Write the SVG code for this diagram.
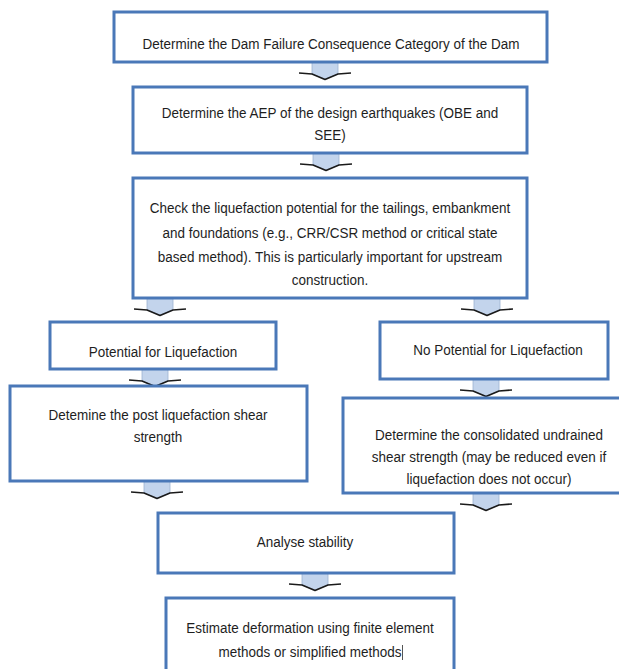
<svg xmlns="http://www.w3.org/2000/svg" width="619" height="669" viewBox="0 0 619 669">
  <style>
    .box { fill: #ffffff; stroke: #4a78b8; stroke-width: 3; }
    .label { font-family: "Liberation Sans", Arial, sans-serif; font-size: 14.5px; fill: #1e1e1e; text-anchor: middle; }
    .stem { fill: #c3d4ec; stroke: #9db3d2; stroke-width: 0.8; }
    .head { fill: none; stroke: #1a1a1a; stroke-width: 1.6; stroke-linejoin: round; }
  </style>
  <defs>
    <!-- block arrow, origin at top centre, 19px long -->
    <g id="blockArrow">
      <path class="stem" d="M-13,0 H13 V12 L0,17 L-13,12 Z"/>
      <path class="head" d="M-26,11 L-13,12 L0,17.5 L13,12 L26,11"/>
    </g>
  </defs>
  <rect width="619" height="669" fill="#ffffff"/>

  <g id="connectors">
    <use href="#blockArrow" x="325" y="62"/>
    <use href="#blockArrow" x="326" y="153"/>
    <use href="#blockArrow" x="160" y="298"/>
    <use href="#blockArrow" x="487" y="298"/>
    <use href="#blockArrow" x="155" y="369"/>
    <use href="#blockArrow" x="486" y="379"/>
    <use href="#blockArrow" x="157" y="481"/>
    <use href="#blockArrow" x="486" y="493"/>
    <use href="#blockArrow" x="315" y="573"/>
  </g>

  <!-- labels use a slightly narrowed sans: each line is placed with translate(cx, baseline) scale(0.93,1) -->
  <g id="consequence-category">
    <rect class="box" x="114" y="12" width="433" height="50"/>
    <text class="label" transform="translate(331,49) scale(0.93,1)">Determine the Dam Failure Consequence Category of the Dam</text>
  </g>

  <g id="design-earthquakes">
    <rect class="box" x="133" y="87" width="394" height="66"/>
    <text class="label" transform="translate(330,118) scale(0.93,1)">Determine the AEP of the design earthquakes (OBE and</text>
    <text class="label" transform="translate(330,140) scale(0.93,1)">SEE)</text>
  </g>

  <g id="liquefaction-check">
    <rect class="box" x="133" y="178" width="394" height="120"/>
    <text class="label" transform="translate(330,213) scale(0.93,1)">Check the liquefaction potential for the tailings, embankment</text>
    <text class="label" transform="translate(330,238) scale(0.93,1)">and foundations (e.g., CRR/CSR method or critical state</text>
    <text class="label" transform="translate(330,262) scale(0.93,1)">based method). This is particularly important for upstream</text>
    <text class="label" transform="translate(330,285) scale(0.93,1)">construction.</text>
  </g>

  <g id="potential">
    <rect class="box" x="50" y="322" width="226" height="47"/>
    <text class="label" transform="translate(163,357) scale(0.93,1)">Potential for Liquefaction</text>
  </g>

  <g id="no-potential">
    <rect class="box" x="380" y="322" width="228" height="57"/>
    <text class="label" transform="translate(498,355) scale(0.93,1)">No Potential for Liquefaction</text>
  </g>

  <g id="post-liquefaction-strength">
    <rect class="box" x="10" y="386" width="297" height="95"/>
    <text class="label" transform="translate(158,420) scale(0.93,1)">Detemine the post liquefaction shear</text>
    <text class="label" transform="translate(158,442) scale(0.93,1)">strength</text>
  </g>

  <g id="undrained-strength">
    <rect class="box" x="343" y="398" width="290" height="95"/>
    <text class="label" transform="translate(489,440) scale(0.93,1)">Determine the consolidated undrained</text>
    <text class="label" transform="translate(489,462) scale(0.93,1)">shear strength (may be reduced even if</text>
    <text class="label" transform="translate(489,484) scale(0.93,1)">liquefaction does not occur)</text>
  </g>

  <g id="stability">
    <rect class="box" x="158" y="513" width="296" height="60"/>
    <text class="label" transform="translate(305,547) scale(0.93,1)">Analyse stability</text>
  </g>

  <g id="deformation">
    <rect class="box" x="166" y="598" width="288" height="90"/>
    <text class="label" transform="translate(310,633) scale(0.93,1)">Estimate deformation using finite element</text>
    <text class="label" transform="translate(310,657) scale(0.93,1)">methods or simplified methods</text>
    <line x1="402.5" y1="645" x2="402.5" y2="660" stroke="#555555" stroke-width="1"/>
  </g>
</svg>
